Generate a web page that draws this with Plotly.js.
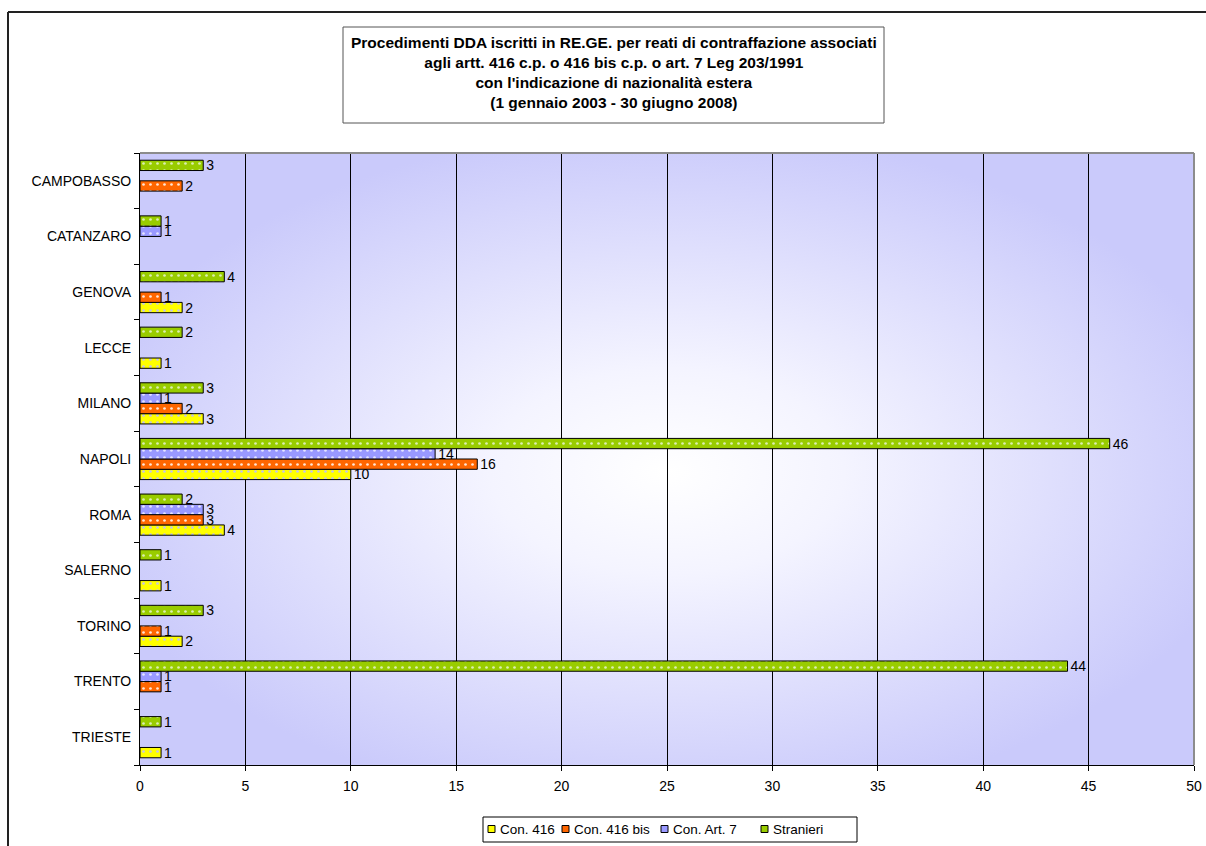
<!DOCTYPE html>
<html>
<head>
<meta charset="utf-8">
<script src="https://cdn.plot.ly/plotly-3.0.1.min.js"></script>
<style>
  html, body { margin: 0; padding: 0; background: #ffffff; }
  #chart { width: 1206px; height: 846px; }
</style>
</head>
<body>
<div id="chart"></div>
<script>
// Uffici DDA (top to bottom as shown)
const sedi = ["CAMPOBASSO", "CATANZARO", "GENOVA", "LECCE", "MILANO", "NAPOLI",
              "ROMA", "SALERNO", "TORINO", "TRENTO", "TRIESTE"];

// Numero di procedimenti per sede (null = nessun procedimento)
const con416    = [null, null, 2, 1, 3, 10, 4, 1, 2, null, 1];
const con416bis = [2, null, 1, null, 2, 16, 3, null, 1, 1, null];
const conArt7   = [null, 1, null, null, 1, 14, 3, null, null, 1, null];
const stranieri = [3, 1, 4, 2, 3, 46, 2, 1, 3, 44, 1];

const seriesNames = ["Con. 416", "Con. 416 bis", "Con. Art. 7", "Stranieri"];
const xTicks = [0, 5, 10, 15, 20, 25, 30, 35, 40, 45, 50];

const FONT = "Liberation Sans, Arial, sans-serif";

// plotting area in page pixels
const PL = 140, PR = 1194, PT = 153, PB = 765;
const px = x => (x - PL) / (PR - PL);
const py = y => (PB - y) / (PB - PT);

const styles = [
  { color: "#FFFF00", dot: "#C4C4E8" },
  { color: "#FF6600", dot: "#FFE6D6" },
  { color: "#9999FF", dot: "#E4E4FF" },
  { color: "#99CC00", dot: "#DCEFB0" }
];

const values = [con416, con416bis, conArt7, stranieri];

const traces = values.map((vals, i) => ({
  type: "bar",
  orientation: "h",
  name: seriesNames[i],
  y: sedi,
  x: vals,
  text: vals.map(v => (v === null ? "" : String(v))),
  textposition: "outside",
  constraintext: "none",
  cliponaxis: false,
  textfont: { family: FONT, size: 14, color: "#000000" },
  hoverinfo: "x+y+name",
  marker: {
    color: styles[i].color,
    line: { color: "#000000", width: 1 },
    pattern: {
      shape: ".",
      fillmode: "replace",
      bgcolor: styles[i].color,
      fgcolor: styles[i].dot,
      size: 7,
      solidity: 0.12
    }
  }
}));

// radial background for the plotting area
const bgSvg =
  '<svg xmlns="http://www.w3.org/2000/svg" width="200" height="200" preserveAspectRatio="none" viewBox="0 0 200 200">' +
  '<defs><radialGradient id="g" cx="0.5" cy="0.52" r="0.56">' +
  '<stop offset="0" stop-color="#FFFFFF"/>' +
  '<stop offset="0.3" stop-color="#F4F4FF"/>' +
  '<stop offset="1" stop-color="#CACAFB"/>' +
  '</radialGradient></defs>' +
  '<rect x="0" y="0" width="200" height="200" fill="url(#g)"/></svg>';
const bgUri = "data:image/svg+xml;charset=utf-8," + encodeURIComponent(bgSvg);

const titleText =
  "<b>Procedimenti DDA iscritti in RE.GE. per reati di contraffazione associati<br>" +
  "agli artt. 416 c.p. o 416 bis c.p. o art. 7 Leg 203/1991<br>" +
  "con l'indicazione di nazionalità estera<br>" +
  "(1 gennaio 2003 - 30 giugno 2008)</b>";

// legend drawn as a compact boxed row under the axis
const legendSwatchX = [488, 562, 661, 761];
const legendTextX = [498, 572, 671, 771];
const legendY = 829;

const legendShapes = [
  { type: "rect", xref: "paper", yref: "paper",
    x0: px(483), x1: px(857), y0: py(842), y1: py(817),
    line: { color: "#000000", width: 1 }, fillcolor: "#FFFFFF" }
].concat(legendSwatchX.map((x, i) => ({
  type: "rect", xref: "paper", yref: "paper",
  x0: px(x), x1: px(x + 7), y0: py(legendY + 3.5), y1: py(legendY - 3.5),
  line: { color: "#000000", width: 1 }, fillcolor: styles[i].color
})));

const legendTexts = seriesNames.map((name, i) => ({
  xref: "paper", yref: "paper",
  x: px(legendTextX[i]), y: py(legendY),
  xanchor: "left", yanchor: "middle",
  showarrow: false,
  text: name,
  font: { family: FONT, size: 13.5, color: "#000000" }
}));

const layout = {
  width: 1206,
  height: 846,
  margin: { l: PL, r: 1206 - PR, t: PT, b: 846 - PB, pad: 0 },
  paper_bgcolor: "#FFFFFF",
  plot_bgcolor: "rgba(0,0,0,0)",
  font: { family: FONT, size: 12, color: "#000000" },
  barmode: "group",
  bargap: 0.26,
  bargroupgap: 0,
  showlegend: false,
  xaxis: {
    range: [0, 50],
    tickvals: xTicks,
    ticktext: xTicks.map(String),
    showgrid: true,
    gridcolor: "#000000",
    gridwidth: 1,
    zeroline: false,
    showline: true,
    linecolor: "#000000",
    linewidth: 1,
    ticks: "outside",
    ticklen: 5,
    tickcolor: "#000000",
    ticklabelstandoff: 3,
    tickfont: { family: FONT, size: 14, color: "#000000" },
    fixedrange: true
  },
  yaxis: {
    type: "category",
    categoryorder: "array",
    categoryarray: sedi.slice().reverse(),
    tickson: "boundaries",
    ticks: "outside",
    ticklen: 5,
    tickcolor: "#000000",
    showgrid: false,
    zeroline: false,
    showline: true,
    linecolor: "#000000",
    linewidth: 1,
    ticklabelstandoff: 5,
    tickfont: { family: FONT, size: 14, color: "#000000" },
    fixedrange: true
  },
  images: [{
    source: bgUri,
    xref: "paper", yref: "paper",
    x: 0, y: 1, sizex: 1, sizey: 1,
    xanchor: "left", yanchor: "top",
    sizing: "stretch",
    layer: "below"
  }],
  shapes: [
    // outer chart frame
    { type: "line", xref: "paper", yref: "paper", x0: px(8), x1: 1.05, y0: py(12), y1: py(12),
      line: { color: "#222222", width: 2 } },
    { type: "line", xref: "paper", yref: "paper", x0: px(8), x1: px(8), y0: py(12), y1: -0.2,
      line: { color: "#222222", width: 2 } },
    // top and right edges of the plotting area
    { type: "line", xref: "paper", yref: "paper", x0: 0, x1: 1, y0: 1, y1: 1,
      line: { color: "#8C8C8C", width: 2 } },
    { type: "line", xref: "paper", yref: "paper", x0: 1, x1: 1, y0: 1, y1: 0,
      line: { color: "#8C8C8C", width: 2 } },
    // title box
    { type: "rect", xref: "paper", yref: "paper",
      x0: px(343), x1: px(884), y0: py(123), y1: py(27),
      line: { color: "#555555", width: 1 }, fillcolor: "#FFFFFF", layer: "below" }
  ].concat(legendShapes),
  annotations: [{
    xref: "paper", yref: "paper",
    x: px(613.5), y: py(72),
    xanchor: "center", yanchor: "middle",
    showarrow: false,
    align: "center",
    text: titleText,
    font: { family: FONT, size: 15.5, color: "#000000" }
  }].concat(legendTexts)
};

Plotly.newPlot("chart", traces, layout, { displayModeBar: false, staticPlot: true });
</script>
</body>
</html>
